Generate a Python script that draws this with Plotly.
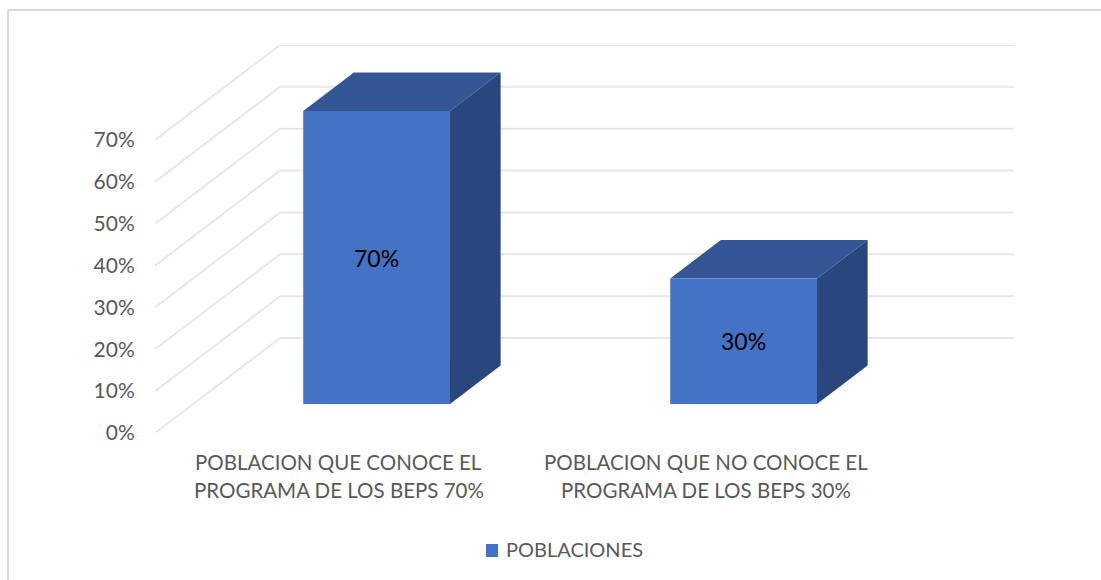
import plotly.graph_objects as go

categories = [
    ["POBLACION QUE CONOCE EL", "PROGRAMA DE LOS BEPS 70%"],
    ["POBLACION QUE NO CONOCE EL", "PROGRAMA DE LOS BEPS 30%"],
]
values = [70, 30]
tick_values = [0, 10, 20, 30, 40, 50, 60, 70]
tick_labels = ["0%", "10%", "20%", "30%", "40%", "50%", "60%", "70%"]
series_name = "POBLACIONES"

# oblique projection of the excel 3d chart, in axis units
DEPTH_X = 0.3406
DEPTH_Y = 22.7
BAR_WIDTH = 0.4
BAR_DEPTH_START = 0.305
BAR_DEPTH_END = 0.71

WIDTH, HEIGHT = 1101, 580
M_L, M_R, M_T, M_B = 155, 87, 45, 147

FONT = "Lato"
GREY = "#595959"
GRID = "#e7e7e7"
FRONT = "#4472c4"
TOP = "#345695"
SIDE = "#2a477d"


def project(x, y, depth):
    return x + depth * DEPTH_X, y + depth * DEPTH_Y


def face(points, color):
    xs, ys = zip(*[project(*p) for p in points])
    return go.Scatter(
        x=list(xs) + [xs[0]],
        y=list(ys) + [ys[0]],
        mode="lines",
        fill="toself",
        fillcolor=color,
        line={"width": 0, "color": color},
        showlegend=False,
        hoverinfo="skip",
    )


def paper_x(px):
    return (px - M_L) / (WIDTH - M_L - M_R)


def paper_y(py):
    return (HEIGHT - M_B - py) / (HEIGHT - M_T - M_B)


fig = go.Figure()
annotations = []

# walls: diagonal on the side wall, then straight along the back
for v in tick_values:
    fig.add_trace(go.Scatter(
        x=[0, DEPTH_X, 2 + DEPTH_X],
        y=[v, v + DEPTH_Y, v + DEPTH_Y],
        mode="lines",
        line={"width": 2, "color": GRID},
        showlegend=False,
        hoverinfo="skip",
    ))

for i, v in enumerate(values):
    x0 = i + 0.5 - BAR_WIDTH / 2
    x1 = i + 0.5 + BAR_WIDTH / 2
    d0, d1 = BAR_DEPTH_START, BAR_DEPTH_END
    fig.add_trace(face([(x0, v, d0), (x1, v, d0), (x1, v, d1), (x0, v, d1)], TOP))
    fig.add_trace(face([(x1, 0, d0), (x1, v, d0), (x1, v, d1), (x1, 0, d1)], SIDE))
    fig.add_trace(face([(x0, 0, d0), (x1, 0, d0), (x1, v, d0), (x0, v, d0)], FRONT))

    lx, ly = project(i + 0.5, v / 2, d0)
    annotations.append({
        "x": lx,
        "y": ly,
        "text": f"{v}%",
        "showarrow": False,
        "xanchor": "center",
        "yanchor": "middle",
        "font": {"family": FONT, "size": 23, "color": "#000000"},
    })

# category labels, one annotation a line because the spacing is wider than plotly's
for i, lines in enumerate(categories):
    for j, line in enumerate(lines):
        annotations.append({
            "x": i + 0.5,
            "xref": "x",
            "y": paper_y(462 + j * 28.5),
            "yref": "paper",
            "text": line,
            "showarrow": False,
            "xanchor": "center",
            "yanchor": "middle",
            "font": {"family": FONT, "size": 20.5, "color": GREY},
        })

# legend text, swatch sits in the shapes below (plotly's legend gap is too wide)
annotations.append({
    "x": paper_x(506),
    "xref": "paper",
    "y": paper_y(549),
    "yref": "paper",
    "text": series_name,
    "showarrow": False,
    "xanchor": "left",
    "yanchor": "middle",
    "xshift": -2,
    "font": {"family": FONT, "size": 20, "color": GREY},
})

# chart area border, only top and left show in the crop
shapes = [
    {"type": "line", "xref": "paper", "yref": "paper",
     "x0": paper_x(8), "x1": paper_x(8), "y0": paper_y(10), "y1": paper_y(580),
     "line": {"color": "#d9d9d9", "width": 2}},
    {"type": "line", "xref": "paper", "yref": "paper",
     "x0": paper_x(8), "x1": paper_x(1101), "y0": paper_y(10), "y1": paper_y(10),
     "line": {"color": "#d9d9d9", "width": 2}},
    {"type": "rect", "xref": "paper", "yref": "paper",
     "x0": paper_x(486), "x1": paper_x(498), "y0": paper_y(544), "y1": paper_y(557),
     "fillcolor": FRONT, "line": {"width": 0}},
]

fig.update_layout(
    width=WIDTH,
    height=HEIGHT,
    margin={"l": M_L, "r": M_R, "t": M_T, "b": M_B, "pad": 0},
    paper_bgcolor="#ffffff",
    plot_bgcolor="#ffffff",
    annotations=annotations,
    shapes=shapes,
    showlegend=False,
    hovermode=False,
)

fig.update_xaxes(
    range=[0, 2 + DEPTH_X],
    showgrid=False,
    zeroline=False,
    showline=False,
    showticklabels=False,
    ticks="",
)
fig.update_yaxes(
    range=[0, 70 + DEPTH_Y],
    tickvals=tick_values,
    ticktext=tick_labels,
    showgrid=False,
    zeroline=False,
    showline=False,
    ticks="outside",
    ticklen=15,
    tickcolor="rgba(0,0,0,0)",
    tickfont={"family": FONT, "size": 21, "color": GREY},
)

# page has an 8px body margin by default
fig.write_html(
    "out.html",
    config={"displayModeBar": False},
    post_script="document.body.style.margin = '0';",
)
